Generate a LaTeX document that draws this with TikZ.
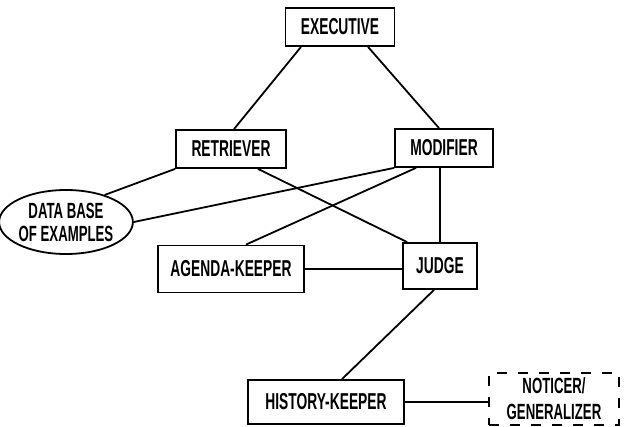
\documentclass[tikz,border=0pt]{standalone}
\usepackage{fontspec}
\newfontfamily\lblfont[FakeStretch=0.6]{Liberation Sans}
\usetikzlibrary{shapes.geometric,calc}
\begin{document}
\begin{tikzpicture}[x=1pt,y=-1pt,
  box/.style={draw,line width=1.8pt,rectangle,inner sep=0pt,font=\lblfont\bfseries\fontsize{23}{26}\selectfont},
  oval/.style={draw,line width=1.8pt,ellipse,inner sep=0pt,align=center,font=\lblfont\bfseries\fontsize{22}{23}\selectfont},
  dbox/.style={box,dash pattern=on 10pt off 11pt,align=center,font=\lblfont\bfseries\fontsize{22}{26}\selectfont},
  link/.style={line width=1.8pt}]
\useasboundingbox (0,0) rectangle (628,427);
\node[box,minimum width=109pt,minimum height=38pt] (exec) at (340,27) {EXECUTIVE};
\node[box,minimum width=110pt,minimum height=38pt] (retr) at (231,149) {RETRIEVER};
\node[box,minimum width=98pt,minimum height=38pt] (modi) at (444,148) {MODIFIER};
\node[oval,minimum width=112pt,minimum height=64pt] (db) at (66,222) {DATA BASE\\OF EXAMPLES};
\node[box,minimum width=146pt,minimum height=47pt] (agen) at (231,269) {AGENDA-KEEPER};
\node[box,minimum width=74pt,minimum height=46pt] (judge) at (440,266) {JUDGE};
\node[box,minimum width=156pt,minimum height=44pt] (hist) at (326,402) {HISTORY-KEEPER};
\node[dbox,minimum width=130pt,minimum height=52pt] (noti) at (554,399) {NOTICER/\\GENERALIZER};
\draw[link] ($(exec.south)+(-39,0)$) -- ($(retr.north)+(3,0)$);
\draw[link] ($(exec.south)+(28,0)$) -- ($(modi.north)+(-5,0)$);
\draw[link] (retr.south west) -- (db.35);
\draw[link] (modi.south west) -- (db.east);
\draw[link] ($(modi.south)+(-28,0)$) -- ($(agen.north)+(15,0)$);
\draw[link] ($(retr.south)+(27,0)$) -- ($(judge.north west)+(5,0)$);
\draw[link] ($(modi.south)+(-4,0)$) -- (judge.north);
\draw[link] (agen.east) -- (agen.east -| judge.west);
\draw[link] ($(judge.south)+(-6,0)$) -- ($(hist.north)+(16,0)$);
\draw[link] (hist.east) -- (hist.east -| noti.west);
\end{tikzpicture}
\end{document}
